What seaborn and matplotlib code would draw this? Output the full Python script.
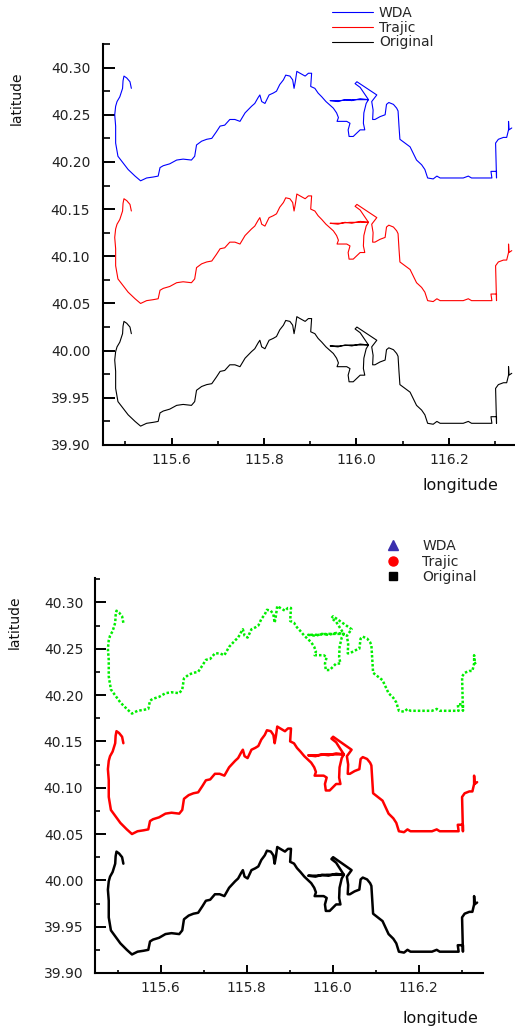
import numpy as np
import pandas as pd
import matplotlib
matplotlib.use("Agg")
import matplotlib.pyplot as plt
from matplotlib.lines import Line2D
from matplotlib.ticker import MultipleLocator, FormatStrFormatter
import seaborn as sns

# ---------------- data ----------------
series_names = ["WDA", "Trajic", "Original"]

lon_track = [
    115.513, 115.510, 115.503, 115.497, 115.495, 115.494, 115.488, 115.482, 115.479, 115.477,
    115.479, 115.479, 115.484, 115.495, 115.506, 115.521, 115.533, 115.546, 115.560, 115.571,
    115.575, 115.582, 115.596, 115.611, 115.625, 115.643, 115.650, 115.654, 115.665, 115.676,
    115.687, 115.697, 115.705, 115.715, 115.726, 115.737, 115.748, 115.759, 115.773, 115.780,
    115.787, 115.791, 115.795, 115.802, 115.806, 115.811, 115.820, 115.827, 115.834, 115.842,
    115.847, 115.856, 115.862, 115.865, 115.868, 115.871, 115.878, 115.889, 115.896, 115.903,
    115.901, 115.910, 115.917, 115.925, 115.934, 115.950, 115.957, 115.961, 115.958, 115.979,
    115.986, 115.982, 115.984, 115.993, 116.008, 116.018, 116.015, 116.016, 116.021, 116.026,
    116.008, 115.990, 115.975, 115.960, 115.943, 115.964, 115.986, 116.008, 116.026, 116.008,
    115.997, 116.001, 116.044, 116.033, 116.036, 116.035, 116.040, 116.051, 116.062, 116.065,
    116.070, 116.080, 116.087, 116.090, 116.092, 116.094, 116.105, 116.116, 116.123, 116.130,
    116.141, 116.148, 116.154, 116.166, 116.174, 116.181, 116.206, 116.231, 116.242, 116.249,
    116.293, 116.291, 116.303, 116.303, 116.302, 116.301, 116.307, 116.318, 116.325, 116.329,
    116.329, 116.330, 116.336,
]

lat_wda = [
    40.278, 40.285, 40.289, 40.291, 40.286, 40.278, 40.269, 40.264, 40.259, 40.250,
    40.238, 40.220, 40.206, 40.199, 40.192, 40.185, 40.180, 40.183, 40.184, 40.185,
    40.194, 40.196, 40.198, 40.202, 40.203, 40.202, 40.206, 40.218, 40.222, 40.224,
    40.225, 40.232, 40.238, 40.239, 40.245, 40.245, 40.243, 40.252, 40.259, 40.262,
    40.268, 40.271, 40.264, 40.262, 40.266, 40.271, 40.273, 40.275, 40.282, 40.287,
    40.292, 40.291, 40.287, 40.278, 40.286, 40.296, 40.294, 40.291, 40.294, 40.294,
    40.280, 40.278, 40.273, 40.269, 40.264, 40.257, 40.252, 40.247, 40.243, 40.243,
    40.241, 40.234, 40.227, 40.227, 40.234, 40.234, 40.241, 40.252, 40.262, 40.266,
    40.267, 40.265, 40.266, 40.264, 40.265, 40.265, 40.266, 40.266, 40.266, 40.279,
    40.283, 40.285, 40.271, 40.264, 40.255, 40.245, 40.245, 40.248, 40.250, 40.261,
    40.263, 40.261, 40.257, 40.254, 40.238, 40.224, 40.220, 40.216, 40.209, 40.202,
    40.197, 40.192, 40.183, 40.182, 40.185, 40.183, 40.183, 40.183, 40.185, 40.183,
    40.183, 40.190, 40.190, 40.183, 40.202, 40.220, 40.224, 40.226, 40.226, 40.234,
    40.243, 40.234, 40.236,
]

lat_trajic = [
    40.148, 40.155, 40.159, 40.161, 40.156, 40.148, 40.139, 40.134, 40.129, 40.120,
    40.108, 40.090, 40.076, 40.069, 40.062, 40.055, 40.050, 40.053, 40.054, 40.055,
    40.064, 40.066, 40.068, 40.072, 40.073, 40.072, 40.076, 40.088, 40.092, 40.094,
    40.095, 40.102, 40.108, 40.109, 40.115, 40.115, 40.113, 40.122, 40.129, 40.132,
    40.138, 40.141, 40.134, 40.132, 40.136, 40.141, 40.143, 40.145, 40.152, 40.157,
    40.162, 40.161, 40.157, 40.148, 40.156, 40.166, 40.164, 40.161, 40.164, 40.164,
    40.150, 40.148, 40.143, 40.139, 40.134, 40.127, 40.122, 40.117, 40.113, 40.113,
    40.111, 40.104, 40.097, 40.097, 40.104, 40.104, 40.111, 40.122, 40.132, 40.136,
    40.137, 40.135, 40.136, 40.134, 40.135, 40.135, 40.136, 40.136, 40.136, 40.149,
    40.153, 40.155, 40.141, 40.134, 40.125, 40.115, 40.115, 40.118, 40.120, 40.131,
    40.133, 40.131, 40.127, 40.124, 40.108, 40.094, 40.090, 40.086, 40.079, 40.072,
    40.067, 40.062, 40.053, 40.052, 40.055, 40.053, 40.053, 40.053, 40.055, 40.053,
    40.053, 40.060, 40.060, 40.053, 40.072, 40.090, 40.094, 40.096, 40.096, 40.104,
    40.113, 40.104, 40.106,
]

lat_original = [
    40.018, 40.025, 40.029, 40.031, 40.026, 40.018, 40.009, 40.004, 39.999, 39.990,
    39.978, 39.960, 39.946, 39.939, 39.932, 39.925, 39.920, 39.923, 39.924, 39.925,
    39.934, 39.936, 39.938, 39.942, 39.943, 39.942, 39.946, 39.958, 39.962, 39.964,
    39.965, 39.972, 39.978, 39.979, 39.985, 39.985, 39.983, 39.992, 39.999, 40.002,
    40.008, 40.011, 40.004, 40.002, 40.006, 40.011, 40.013, 40.015, 40.022, 40.027,
    40.032, 40.031, 40.027, 40.018, 40.026, 40.036, 40.034, 40.031, 40.034, 40.034,
    40.020, 40.018, 40.013, 40.009, 40.004, 39.997, 39.992, 39.987, 39.983, 39.983,
    39.981, 39.974, 39.967, 39.967, 39.974, 39.974, 39.981, 39.992, 40.002, 40.006,
    40.007, 40.005, 40.006, 40.004, 40.005, 40.005, 40.006, 40.006, 40.006, 40.019,
    40.023, 40.025, 40.011, 40.004, 39.995, 39.985, 39.985, 39.988, 39.990, 40.001,
    40.003, 40.001, 39.997, 39.994, 39.978, 39.964, 39.960, 39.956, 39.949, 39.942,
    39.937, 39.932, 39.923, 39.922, 39.925, 39.923, 39.923, 39.923, 39.925, 39.923,
    39.923, 39.930, 39.930, 39.923, 39.942, 39.960, 39.964, 39.966, 39.966, 39.974,
    39.983, 39.974, 39.976,
]

x_ticks = [115.6, 115.8, 116.0, 116.2]
y_ticks = [39.90, 39.95, 40.00, 40.05, 40.10, 40.15, 40.20, 40.25, 40.30]
x_label = "longitude"
y_label = "latitude"

# ---------------- styling ----------------
sns.set_style("ticks")
plt.rcParams["font.family"] = ["DejaVu Sans"]

frames = []
for name, lat in zip(series_names, [lat_wda, lat_trajic, lat_original]):
    frames.append(pd.DataFrame({"lon": lon_track, "lat": lat, "series": name}))
df = pd.concat(frames, ignore_index=True)

W, H = 515, 1029
fig = plt.figure(figsize=(W / 100, H / 100), dpi=100)

ax1 = fig.add_axes([102.7 / W, 1 - 445 / H, (W - 102.7) / W, (445 - 44) / H])
ax2 = fig.add_axes([95 / W, 1 - 973 / H, (482.7 - 95) / W, (973 - 578.3) / H])

sns.lineplot(data=df, x="lon", y="lat", hue="series", hue_order=series_names,
             palette=["#0000ff", "#ff0000", "#000000"], sort=False, estimator=None,
             lw=0.8, ax=ax1)

sns.lineplot(data=df, x="lon", y="lat", hue="series", hue_order=series_names,
             palette=["#00ee00", "#ff0000", "#000000"], sort=False, estimator=None,
             style="series", style_order=series_names,
             dashes={"WDA": (1.0, 0.8), "Trajic": "", "Original": ""},
             lw=1.8, legend=False, ax=ax2)


def style_axes(ax, xlim, ylim, ymaj, ymin, xmaj, xmin, ypad, xpad):
    ax.set_xlim(*xlim)
    ax.set_ylim(*ylim)
    ax.set_xticks(x_ticks)
    ax.set_yticks(y_ticks)
    ax.xaxis.set_minor_locator(MultipleLocator(0.1))
    ax.yaxis.set_minor_locator(MultipleLocator(0.025))
    ax.xaxis.set_major_formatter(FormatStrFormatter("%.1f"))
    ax.yaxis.set_major_formatter(FormatStrFormatter("%.2f"))
    ax.set_xlabel("")
    ax.set_ylabel("")
    for s in ["top", "right"]:
        ax.spines[s].set_visible(False)
    for s in ["left", "bottom"]:
        ax.spines[s].set_linewidth(1.5)
        ax.spines[s].set_color("black")
    ax.tick_params(axis="y", which="major", direction="in", length=ymaj, width=1.4,
                   pad=ypad, labelsize=10, colors="black", labelcolor="#222222")
    ax.tick_params(axis="y", which="minor", direction="in", length=ymin, width=1.2,
                   colors="black")
    ax.tick_params(axis="x", which="major", direction="in", length=xmaj, width=1.4,
                   pad=xpad, labelsize=10, colors="black", labelcolor="#222222")
    ax.tick_params(axis="x", which="minor", direction="in", length=xmin, width=1.2,
                   colors="black")


style_axes(ax1, (115.451, 116.343), (39.90, 40.325), 8.4, 4.8, 5.3, 2.7, 9.0, 6.0)
style_axes(ax2, (115.447, 116.349), (39.90, 40.326), 7.7, 3.6, 5.5, 2.0, 8.5, 6.0)

ax1.text(0.867, -0.0998, x_label, transform=ax1.transAxes, ha="center", va="center",
         fontsize=11.5, color="#111111")
ax1.text(-0.208, 0.865, y_label, transform=ax1.transAxes, ha="center", va="center",
         rotation=90, fontsize=10, color="#111111")
ax2.text(0.892, -0.1165, x_label, transform=ax2.transAxes, ha="center", va="center",
         fontsize=11.5, color="#111111")
ax2.text(-0.206, 0.889, y_label, transform=ax2.transAxes, ha="center", va="center",
         rotation=90, fontsize=10, color="#111111")

# top legend (lines)
handles, labels = ax1.get_legend_handles_labels()
ax1.legend(handles, labels, loc="upper left",
           bbox_to_anchor=(332 / W, 1 - 6 / H), bbox_transform=fig.transFigure,
           frameon=False, borderpad=0, borderaxespad=0, handlelength=2.95,
           handletextpad=0.43, labelspacing=0.05, fontsize=10)

# bottom legend (markers)
mk_handles = [
    Line2D([], [], linestyle="none", marker="^", markersize=6.5, color="#3a2fae"),
    Line2D([], [], linestyle="none", marker="o", markersize=6.5, color="#ff0000"),
    Line2D([], [], linestyle="none", marker="s", markersize=5.5, color="#000000"),
]
ax2.legend(mk_handles, series_names, loc="upper left",
           bbox_to_anchor=(382.6 / W, 1 - 539 / H), bbox_transform=fig.transFigure,
           frameon=False, borderpad=0, borderaxespad=0, handlelength=1.5,
           handletextpad=1.34, labelspacing=0.12, fontsize=10)

fig.savefig("out.png", dpi=100)
